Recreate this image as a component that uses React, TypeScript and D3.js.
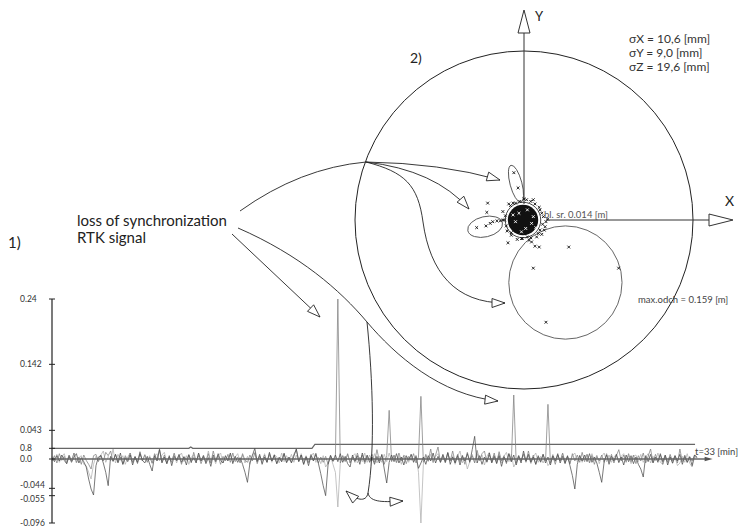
import React from 'react';
import * as d3 from 'd3';

const W = 739;
const H = 528;
const FONT = 'Lato, "Open Sans", sans-serif';

// ---------- 1) time series, values in mm, one sample every 0.125 min ----------
const STEP_MIN = 0.125;
const seriesDark = [
  2, -4, 5, -3, 6, -2, -7, 4, -5, 3, 8, -6, 2, -4, -12, -30, -45, -54, -10, 3,
  5, -6, -20, -40, 4, -3, 7, -5, 9, -8, 2, -4, 6, -9, 3, -5, 8, -2, -6, 4,
  -8, -18, 5, -3, 14, -6, 3, -7, 5, -10, 4, -2, 7, -5, 3, -9, 6, -4, 2, -6,
  9, -3, 5, -7, 2, -11, 6, -4, 8, -2, -6, 5, -3, 9, -7, 4, -5, 2, -8, -20,
  -35, -6, 5, 16, -4, 7, -8, 3, -5, 10, -3, 6, -7, 2, -4, 8, -5, 3, -6, 4,
  15, -4, 6, -8, 3, -10, 5, -3, 7, -6, -22, -40, -55, -8, 5, -3, 6, -4, 8, -5,
  4, -7, -12, 6, -3, 5, -8, 9, -4, 6, -5, 3, -8, 4, -6, 7, -15, -36, -5, 6,
  -4, 8, -6, 3, -9, 5, -2, 7, -5, 4, -14, -6, 3, -8, 5, -3, 9, -6, 4, -5,
  7, -4, 10, -8, 3, -6, 5, -9, 4, -3, 8, -5, 14, 34, -6, 5, -8, 3, -4, 9,
  -6, 4, -7, 5, -11, 3, -5, 8, -4, 6, -9, 4, -6, 12, -3, 7, -5, 3, -8, 5,
  -4, 7, -6, 3, -9, 5, -3, 8, -6, 4, -7, 5, -10, -25, -45, -8, 5, -3, 6, -4,
  8, -5, 3, -6, -20, -35, -4, 6, -8, 4, -3, 7, -5, 3, -9, 6, -4, 5, -7, 3,
  -8, -15, -27, 5, -4, 7, -6, 3, -5, 8, -4, 6, -9, 3, -6, 5, -3, 7, -8, 4,
  -5, 3, -10, 6, 2,
];
const seriesMid = [
  -3, 5, -6, 8, -2, 4, -7, 6, -3, 9, -5, 3, -8, 6, -2, -8, -15, 5, 7, -4,
  6, -3, 10, 5, 12, -4, 7, -6, 3, -8, 5, -2, 9, -5, 4, -7, 11, -3, 6, -5,
  3, -6, 8, -2, 15, -4, 6, -7, 3, -5, 9, -3, 5, -8, 4, -2, 7, -6, 10, -3,
  5, -7, 3, -4, 8, -6, 12, -2, 5, -8, 4, -3, 7, -5, 9, -4, 3, -6, 8, -2,
  -5, 6, -3, 9, -7, 4, -2, 6, -5, 8, -3, 5, -7, 3, -4, 9, -6, 2, -5, 7,
  14, -3, 6, -8, 4, -5, 7, -2, 9, -6, 3, -5, 4, -8, 6, -4, 2, 240, -6, 5,
  -4, 8, -6, 3, -5, 9, -3, 6, -7, 4, -2, 7, -5, 14, -3, 6, -8, 5, 73, -4,
  6, -5, 9, -3, 5, -7, 4, -2, 8, -6, 3, 94, -5, 7, -3, 15, -4, 6, 18, -5,
  4, -6, 9, -3, 12, -5, 7, -4, 6, -8, 10, -3, 5, -6, 13, -2, 8, 12, -5, 6,
  -4, 9, -6, 11, -3, 5, -7, 8, -4, 96, -6, 5, -3, 7, -5, 12, -4, 6, -8, 3,
  -5, 7, -3, 82, -6, 4, -8, 6, -3, 9, -5, 4, -7, 8, -3, 6, -5, 10, -4, 7,
  -6, 5, -8, 4, -3, 6, -5, 8, -4, 7, -6, 5, 14, -3, 6, -5, 8, -4, 6, -7,
  5, -3, 9, -6, 4, 15, -5, 7, -3, 6, -8, 4, -5, 7, -3, 5, -6, 15, -4, 6,
  -5, 4, -3, 6, 3,
];
const seriesLight = [
  4, -2, 7, -5, 3, 8, -4, 6, -3, 9, -6, 2, 5, -8, -10, -20, -30, -8, 4, -3,
  6, 12, -5, 4, -3, 15, -6, 7, -2, 5, -8, 3, 9, -5, 4, -6, 10, -3, 7, -4,
  5, -7, 4, 8, -3, 6, 10, -5, 3, -2, 7, -6, 4, 9, -4, 5, -8, 3, 6, -5,
  8, -3, 6, -5, 12, -4, 3, -7, 5, 9, -6, 4, -2, 7, -5, 3, 8, -4, 6, -6,
  4, -8, 6, 10, -3, 5, -6, 8, -4, 6, -5, 7, 3, -6, 9, -4, 5, -3, 7, -5,
  6, -4, 8, -3, 5, -6, 4, 9, -5, 3, -7, 5, -12, -6, 4, -8, -20, -72, -6, 5,
  -3, 7, -5, 4, 8, -6, 3, -4, 9, -5, 6, -3, 8, -6, 4, -5, 7, -4, 9, -3,
  5, -6, 4, -8, 6, 3, -5, 7, -4, 6, -20, -96, -8, 5, -4, 7, -6, 4, 8, -3,
  6, -5, 9, -3, 5, -8, 4, 12, -6, 3, -15, -4, 7, -5, 8, -3, 6, -9, 4, 10,
  -5, 6, -3, 8, -6, 4, 10, -4, 7, -12, -5, 6, -3, 8, -4, 5, -7, 3, 9, -5,
  4, -6, 3, -10, -5, 7, -4, 6, -3, 8, -6, 4, -7, 5, 9, -4, 6, -5, 3, 7,
  -5, 8, -3, 6, -7, 4, 9, -4, 6, -5, 3, 7, -6, 4, 8, -3, 5, -7, 4, 6,
  -4, 7, -5, 3, 8, -6, 4, -3, 9, -5, -8, 6, -4, 5, -7, 3, -10, -6, 4, -5,
  8, -6, -12, 3, 2,
];
// reference level ("0.8" line): [t min, value mm]
const refTimes = [0, 7.0, 7.1, 7.2, 13.3, 13.45, 32.9];
const refValues = [16, 16, 18, 16, 16, 22, 22];
const yTicks = [240, 142, 43, 16, 0, -44, -55, -96];
const yTickLabels = ['0.24', '0.142', '0.043', '0.8', '0.0', '-0.044', '-0.055', '-0.096'];
const T_END = 33;
const T_AXIS_END = 33.8;

// ---------- 2) horizontal scatter, values in mm relative to mean position ----------
const scatterX = [
  -12, -7, -43, -44, -56, -45, -40, -37, -32, -28, -25, -19, -2, 9, 13, 18, 53, 11, 112, 26,
  -13, 11, 19, 26, 28, -15, 19, 21, 4,
  21, 18, 8, -5, -16, -22, -21, -15, -3, 8, 17, 22, 23, 13, -10, -20, 3, -23, 25, -25, 15,
  -8, 6, 24, -18, 0,
];
const scatterY = [
  56, 38, 20, 9, -9, -7, -4, -2, -1, -1, 0, -27, -22, -26, -31, -32, -32, -57, -57, -121,
  20, 24, 12, -2, 1, -15, -12, -17, -20,
  8, 15, 22, 22, 17, 5, -7, -18, -22, -21, -16, -5, 4, 19, 20, -13, 24, 0, -8, 10, -20,
  -23, -24, -12, 19, 25,
];
const innerX = [-6, 4, 9, -10, 2, 11, -3, 14, -13];
const innerY = [8, 12, -4, -2, -10, 4, -14, -9, 6];
const bigCircleR = 200;
const blobR = 18;
const meanCircleR = 21;
const maxCircle = { cx: 49, cy: -74, r: 67 };
const ellipseA = { cx: -9.5, cy: 43, rx: 7, ry: 22.5, rot: -15 };
const ellipseB = { cx: -46, cy: -8, rx: 21, ry: 12, rot: -13 };
const sigmaLines = ['σX = 10,6 [mm]', 'σY = 9,0 [mm]', 'σZ = 19,6 [mm]'];

// ---------- annotations (page coordinates) ----------
type P = [number, number];
const annotTop: P[] = [[240, 211], [300, 168], [366, 162]];
const annotToEllA: P[] = [[366, 162], [440, 163], [500, 180]];
const annotToEllB: P[] = [[366, 162], [435, 170], [469, 209]];
const annotS = 'M366,162 C405,172 418,185 423,222 C430,272 455,303 505,303';
const annotMid = 'M238,228 C300,255 340,290 367,322 C395,355 440,395 498,401';
const annotDown = 'M367,322 C373,380 375,450 368,493';
const annotLeft = 'M368,493 C366,503 356,500 346,491';
const annotRight = 'M368,493 C370,503 385,502 403,501';
const annotStraight: P[] = [[232, 234], [320, 317]];
const arrowTips: { tip: P; from: P }[] = [
  { tip: [500, 180], from: [440, 163] },
  { tip: [469, 209], from: [435, 170] },
  { tip: [505, 303], from: [455, 303] },
  { tip: [498, 401], from: [440, 395] },
  { tip: [346, 491], from: [356, 500] },
  { tip: [403, 501], from: [385, 502] },
  { tip: [320, 317], from: [232, 234] },
];

function arrowPoints(tip: P, from: P, len: number, half: number): string {
  const dx = tip[0] - from[0];
  const dy = tip[1] - from[1];
  const d = Math.hypot(dx, dy) || 1;
  const ux = dx / d, uy = dy / d;
  const nx = -uy, ny = ux;
  const bx = tip[0] - ux * len, by = tip[1] - uy * len;
  return `${tip[0]},${tip[1]} ${bx + nx * half},${by + ny * half} ${bx - nx * half},${by - ny * half}`;
}

export default function App() {
  // time series scales
  const tx = d3.scaleLinear().domain([0, T_END]).range([52, 697]);
  const vy = d3.scaleLinear().domain([-96, 240]).range([523, 299]);
  const tsLine = d3.line<number>().x((_, i) => tx(i * STEP_MIN)).y((v) => vy(v));
  const refLine = d3.line<number>().x((_, i) => tx(refTimes[i])).y((v) => vy(v));

  // scatter scales (mm)
  const sx = d3.scaleLinear().domain([-bigCircleR, bigCircleR]).range([355, 693]);
  const sy = d3.scaleLinear().domain([-bigCircleR, bigCircleR]).range([389, 51]);
  const k = sx(1) - sx(0);
  const ox = sx(0), oy = sy(0);

  const q = (pts: P[]) =>
    pts.length === 3
      ? `M${pts[0][0]},${pts[0][1]} Q${pts[1][0]},${pts[1][1]} ${pts[2][0]},${pts[2][1]}`
      : `M${pts[0][0]},${pts[0][1]} L${pts[1][0]},${pts[1][1]}`;

  const cross = (x: number, y: number, key: string, color: string) => (
    <path key={key} d={`M${x - 1.4},${y - 1.4}L${x + 1.4},${y + 1.4}M${x - 1.4},${y + 1.4}L${x + 1.4},${y - 1.4}`}
      stroke={color} strokeWidth={0.9} />
  );

  const zeroY = vy(0);

  return (
    <svg width={W} height={H} style={{ position: 'absolute', left: 0, top: 0, background: '#fff' }}
      fontFamily={FONT}>
      <rect x={0} y={0} width={W} height={H} fill="#fff" />

      {/* ---------- panel 2: scatter ---------- */}
      <circle cx={ox} cy={oy} r={bigCircleR * k} fill="none" stroke="#222" strokeWidth={1} />
      <circle cx={sx(maxCircle.cx)} cy={sy(maxCircle.cy)} r={maxCircle.r * k} fill="none" stroke="#555" strokeWidth={0.9} />
      <ellipse cx={0} cy={0} rx={ellipseA.rx * k} ry={ellipseA.ry * k}
        transform={`translate(${sx(ellipseA.cx)},${sy(ellipseA.cy)}) rotate(${ellipseA.rot})`}
        fill="none" stroke="#555" strokeWidth={0.9} />
      <ellipse cx={0} cy={0} rx={ellipseB.rx * k} ry={ellipseB.ry * k}
        transform={`translate(${sx(ellipseB.cx)},${sy(ellipseB.cy)}) rotate(${ellipseB.rot})`}
        fill="none" stroke="#555" strokeWidth={0.9} />

      {/* axes */}
      <line x1={ox} y1={33} x2={ox} y2={oy - 16} stroke="#333" strokeWidth={1} />
      <polygon points={arrowPoints([ox, 10], [ox, 40], 23, 6)} fill="#fff" stroke="#333" strokeWidth={1} />
      <line x1={ox + 22} y1={oy} x2={709} y2={oy} stroke="#333" strokeWidth={1} />
      <polygon points={arrowPoints([733, oy], [700, oy], 24, 6)} fill="#fff" stroke="#333" strokeWidth={1} />
      <text x={535} y={21} fontSize={13} fill="#222">Y</text>
      <text x={725} y={206} fontSize={14} fill="#222">X</text>

      {/* mean blob */}
      <circle cx={ox - 1} cy={oy} r={blobR * k} fill="#111" />
      <circle cx={ox - 1} cy={oy} r={meanCircleR * k} fill="none" stroke="#333" strokeWidth={0.9} />
      {scatterX.map((x, i) => cross(sx(x), sy(scatterY[i]), 's' + i, '#111'))}
      {innerX.map((x, i) => cross(sx(x), sy(innerY[i]), 'w' + i, '#fff'))}

      <text x={544} y={218} fontSize={9.5} fill="#555">bl. sr. 0.014 [m]</text>
      <text x={638} y={303} fontSize={9.5} fill="#444">max.odch = 0.159 [m]</text>
      {sigmaLines.map((s, i) => (
        <text key={s} x={629} y={43 + i * 14} fontSize={12} fill="#333">{s}</text>
      ))}
      <text x={410} y={63} fontSize={14} fill="#222">2)</text>

      {/* ---------- panel 1: time series ---------- */}
      <path d={refLine(refValues) || ''} fill="none" stroke="#666" strokeWidth={1.2} />
      <path d={tsLine(seriesLight) || ''} fill="none" stroke="#b0b0b0" strokeWidth={0.75} />
      <path d={tsLine(seriesMid) || ''} fill="none" stroke="#808080" strokeWidth={0.75} />
      <path d={tsLine(seriesDark) || ''} fill="none" stroke="#4d4d4d" strokeWidth={0.75} />
      <line x1={tx(0)} y1={zeroY} x2={tx(T_AXIS_END) - 6} y2={zeroY} stroke="#666" strokeWidth={1.6} />
      <polygon points={arrowPoints([tx(T_AXIS_END), zeroY], [tx(0), zeroY], 8, 2.2)} fill="#555" />
      <text x={695} y={455} fontSize={9.5} fill="#444">t=33 [min]</text>

      <line x1={tx(0)} y1={vy(240)} x2={tx(0)} y2={vy(-96)} stroke="#222" strokeWidth={1.2} />
      {yTicks.map((v, i) => (
        <g key={v}>
          <line x1={tx(0) - 3} x2={tx(0) + 3} y1={vy(v)} y2={vy(v)} stroke="#222" strokeWidth={1} />
          <text x={20} y={vy(v)} dy={i === 5 ? 0 : i === 6 ? 6 : 3} fontSize={8.5} fill="#333">{yTickLabels[i]}</text>
        </g>
      ))}
      <text x={8} y={248} fontSize={15} fill="#222">1)</text>

      {/* ---------- annotations ---------- */}
      <text x={77} y={226} fontSize={15} fill="#222">loss of synchronization</text>
      <text x={77} y={243} fontSize={15} fill="#222">RTK signal</text>
      <g fill="none" stroke="#222" strokeWidth={0.9}>
        <path d={q(annotTop)} />
        <path d={q(annotToEllA)} />
        <path d={q(annotToEllB)} />
        <path d={annotS} />
        <path d={annotMid} />
        <path d={annotDown} />
        <path d={annotLeft} />
        <path d={annotRight} />
        <path d={q(annotStraight)} />
      </g>
      {arrowTips.map((a, i) => (
        <polygon key={i} points={arrowPoints(a.tip, a.from, 13, 4.5)} fill="#fff" stroke="#222" strokeWidth={0.9} />
      ))}
    </svg>
  );
}
